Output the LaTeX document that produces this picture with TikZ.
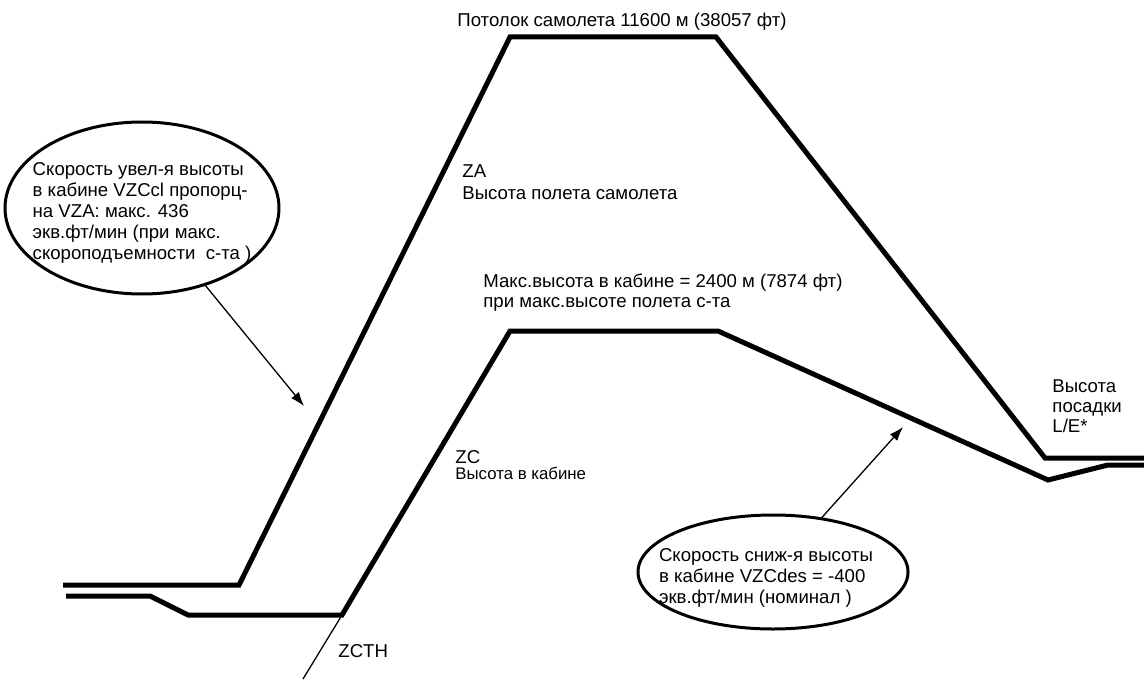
\documentclass[tikz,border=0pt]{standalone}
\usepackage{fontspec}
\setmainfont{Liberation Sans}
\usepackage{tikz}
\usetikzlibrary{shapes,arrows.meta,positioning,calc}
\tikzset{
	profile/.style = {draw, line width=2.5pt},
	leader/.style = {draw, line width=0.65pt},
	oval/.style = {draw, ellipse, line width=1.5pt, inner sep=0pt},
	ovaltext/.style = {draw=none, align=left, inner sep=0pt, font=\fontsize{9.3}{10.6}\selectfont},
	lbl/.style = {draw=none, align=left, inner sep=0pt, anchor=base west, font=\fontsize{9.3}{10}\selectfont},
	lblsmall/.style = {lbl, font=\fontsize{8.4}{9}\selectfont},
	coord/.style = {coordinate}
}

\begin{document}
\begin{tikzpicture}[x=0.5pt, y=-0.5pt, >={Latex[length=7pt,width=5pt]}]
		\useasboundingbox (0,0) rectangle (1144,679);
		% aircraft altitude ZA
		\node [coord] (za0) at (63,585) {};
		\node [coord] (za1) at (239,585) {};
		\node [coord] (za2) at (510,37) {};
		\node [coord] (za3) at (716,37) {};
		\node [coord] (za4) at (1045,458) {};
		\node [coord] (za5) at (1144,458) {};
		% cabin altitude ZC
		\node [coord] (zc0) at (66,596) {};
		\node [coord] (zc1) at (150,596) {};
		\node [coord] (zc2) at (188,615) {};
		\node [coord] (zc3) at (342,615) {};
		\node [coord] (zc4) at (510,331) {};
		\node [coord] (zc5) at (718,331) {};
		\node [coord] (zc6) at (1048,480) {};
		\node [coord] (zc7) at (1108,465) {};
		\node [coord] (zc8) at (1144,465) {};
		\node [coord] (zcth) at (303,679) {};
		\node [coord] (tipL) at (304,406) {};
		\node [coord] (tipR) at (903,427) {};
		% texts
		\node [lbl] (ceiling) at (457,27) {Потолок самолета 11600 м (38057 фт)};
		\node [lbl, anchor=north west] (za) at (462,164.5) {ZA\\[1pt]Высота полета самолета};
		\node [lbl, anchor=north west] (maxc) at (483,273.5) {Макс.высота в кабине = 2400 м (7874 фт)\\при макс.высоте полета с-та};
		\node [lbl] (zc) at (455,463) {ZC};
		\node [lblsmall] (zccap) at (455,479) {Высота в кабине};
		\node [lbl] (zcthtext) at (338,657) {ZCTH};
		\node [lbl, anchor=north west] (landing) at (1052,379.5) {Высота\\посадки\\L/E*};
		\node [oval, minimum width=137pt, minimum height=86pt] (ovalL) at (142,208) {};
		\node [ovaltext] (climb) at ($(ovalL.center)+(0,5)$) {Скорость увел-я высоты\\в кабине VZCcl пропорц-\\на VZA: макс. 436\\экв.фт/мин (при макс.\\скороподъемности\ \ с-та )};
		\node [oval, minimum width=135pt, minimum height=57pt] (ovalR) at (773,572) {};
		\node [ovaltext] (descent) at ($(ovalR.center)+(-7,6)$) {Скорость сниж-я высоты\\в кабине VZCdes = -400\\экв.фт/мин (номинал )};
		% profiles
		\draw [profile] (za0) -- (za1) -- (za2) -- (za3) -- (za4) -- (za5);
		\draw [profile] (zc0) -- (zc1) -- (zc2) -- (zc3) -- (zc4) -- (zc5) -- (zc6) -- (zc7) -- (zc8);
		% leaders
		\draw [leader, ->] (ovalL) -- (tipL);
		\draw [leader, ->] (ovalR) -- (tipR);
		\draw [leader] (zc3) -- (zcth);
	    \end{tikzpicture}
\end{document}
